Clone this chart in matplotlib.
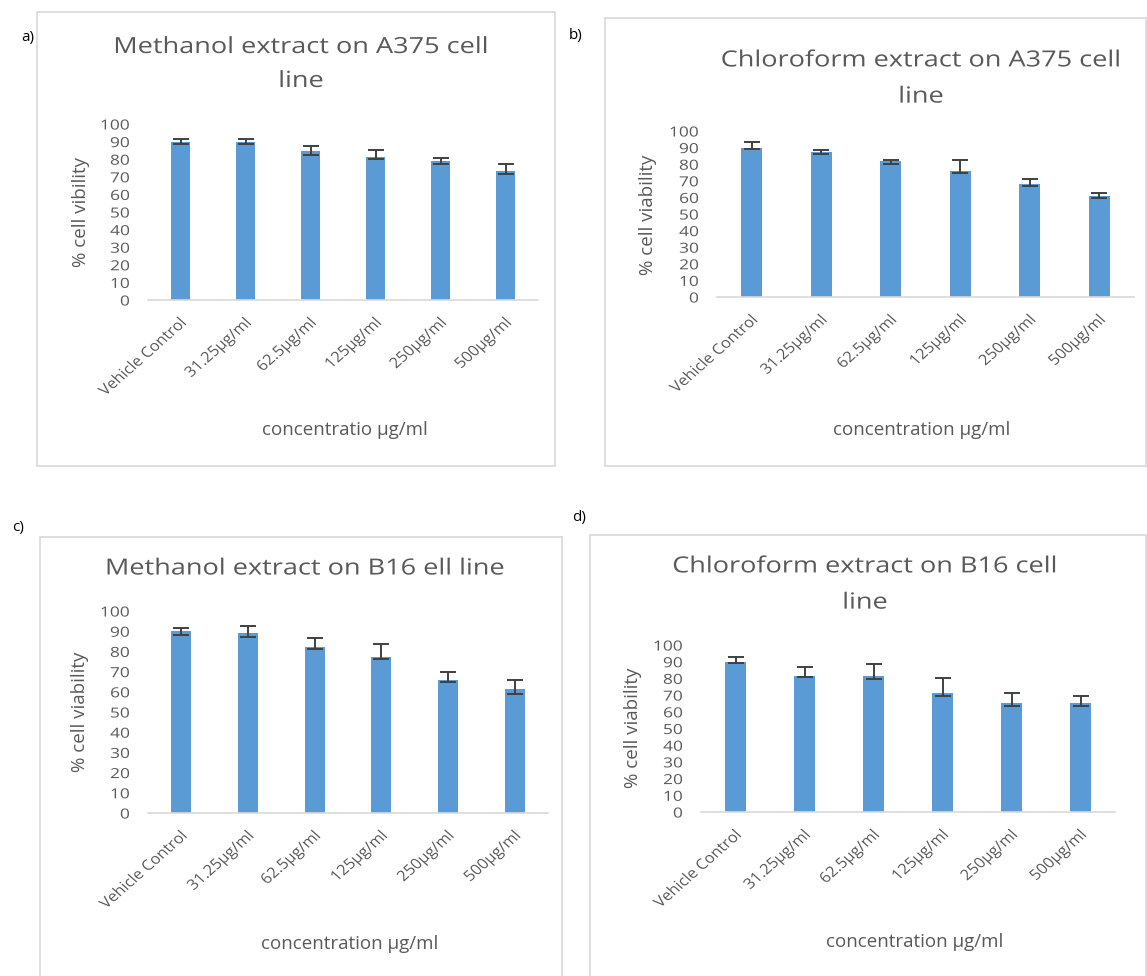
import matplotlib
matplotlib.use("Agg")
import matplotlib.pyplot as plt
from matplotlib.patches import Rectangle
from matplotlib.patheffects import AbstractPathEffect
from matplotlib.transforms import Affine2D

W, H, DPI = 1147, 976, 100

categories = ["Vehicle Control", "31.25µg/ml", "62.5µg/ml", "125µg/ml", "250µg/ml", "500µg/ml"]
y_ticks = [0, 10, 20, 30, 40, 50, 60, 70, 80, 90, 100]

# a) Methanol extract, A375
meth_a375 = [90.0, 90.0, 84.5, 81.1, 78.8, 73.3]
meth_a375_lo = [1.3, 1.3, 2.1, 0.8, 1.5, 1.9]
meth_a375_hi = [1.3, 1.3, 3.0, 4.1, 1.7, 4.2]

# b) Chloroform extract, A375
chl_a375 = [89.9, 87.5, 81.7, 75.9, 67.8, 60.6]
chl_a375_lo = [1.0, 1.2, 1.6, 0.9, 1.0, 1.0]
chl_a375_hi = [3.3, 1.0, 1.0, 6.6, 3.2, 2.2]

# c) Methanol extract, B16
meth_b16 = [90.0, 89.0, 82.2, 77.3, 66.0, 61.2]
meth_b16_lo = [1.8, 2.0, 1.0, 1.1, 1.0, 2.2]
meth_b16_hi = [1.8, 3.6, 4.6, 6.6, 3.6, 4.4]

# d) Chloroform extract, B16
chl_b16 = [89.6, 81.6, 81.6, 71.0, 65.4, 65.4]
chl_b16_lo = [0.6, 1.0, 1.8, 1.8, 1.8, 1.8]
chl_b16_hi = [3.2, 5.4, 6.8, 9.0, 5.6, 4.2]

BAR = "#5b9bd5"
ERR = "#404040"
TXT = "#595959"
GRID = "#d9d9d9"

plt.rcParams["font.family"] = ["Open Sans", "DejaVu Sans"]


class HStretch(AbstractPathEffect):
    """Widen glyph outlines horizontally about a fixed display x."""

    def __init__(self, sx, cx):
        super().__init__()
        self.sx = sx
        self.cx = cx

    def draw_path(self, renderer, gc, tpath, affine, rgbFace=None):
        t = affine + Affine2D().translate(-self.cx, 0).scale(self.sx, 1).translate(self.cx, 0)
        renderer.draw_path(gc, tpath, t, rgbFace)


fig = plt.figure(figsize=(W / DPI, H / DPI), dpi=DPI)
stretched = []  # (text, factor, anchor)


def fx(x):
    return x / W


def fy(y):
    return 1 - y / H


def frame(x0, y0, x1, y1):
    fig.patches.append(Rectangle((fx(x0), fy(y1)), fx(x1 - x0), (y1 - y0) / H,
                                 transform=fig.transFigure, fill=False,
                                 edgecolor=GRID, linewidth=1.2, zorder=0))


def panel(box, vals, lo, hi, title, title_xy, title_ls, ylabel, ylabel_xy,
          xlabel, xlabel_xy, tag, tag_xy):
    x0, y0, x1, y1 = box
    ax = fig.add_axes([fx(x0), fy(y1), fx(x1 - x0), (y1 - y0) / H])
    pos = list(range(len(categories)))
    ax.bar(pos, vals, width=0.3, color=BAR, zorder=2)
    ax.errorbar(pos, vals, yerr=[lo, hi], fmt="none", ecolor=ERR,
                elinewidth=1.4, capsize=6, capthick=1.4, zorder=3)
    ax.set_xlim(-0.5, len(categories) - 0.5)
    ax.set_ylim(0, 100)
    ax.set_yticks(y_ticks)
    ax.set_yticklabels([str(t) for t in y_ticks])
    ax.set_xticks(pos)
    ax.set_xticklabels(categories, rotation=45, ha="right", va="top",
                       rotation_mode="anchor")
    ax.tick_params(axis="both", length=0, colors=TXT)
    ax.tick_params(axis="y", pad=13, labelsize=10)
    ax.tick_params(axis="x", pad=11, labelsize=10.5)
    for s in ("top", "right", "left"):
        ax.spines[s].set_visible(False)
    ax.spines["bottom"].set_color(GRID)
    ax.spines["bottom"].set_linewidth(1.2)
    ax.patch.set_alpha(0)

    for lab in ax.get_yticklabels():
        stretched.append((lab, 1.25, "right"))
    for lab in ax.get_xticklabels():
        stretched.append((lab, 1.13, "right"))

    t = fig.text(fx(title_xy[0]), fy(title_xy[1]), title, ha="center", va="center",
                 fontsize=16, color=TXT, linespacing=title_ls)
    stretched.append((t, 1.22, "center"))
    fig.text(fx(ylabel_xy[0]), fy(ylabel_xy[1]), ylabel, ha="center", va="center",
             rotation=90, fontsize=13.5, color=TXT)
    fig.text(fx(xlabel_xy[0]), fy(xlabel_xy[1]), xlabel, ha="center", va="center",
             fontsize=13.5, color=TXT)
    fig.text(fx(tag_xy[0]), fy(tag_xy[1]), tag, ha="center", va="center",
             fontsize=11, color="black")
    return ax


frame(37, 12, 555, 466)
frame(605, 18, 1146, 466)
frame(40, 537, 562, 990)
frame(590, 535, 1146, 990)

panel((148, 124, 538, 300), meth_a375, meth_a375_lo, meth_a375_hi,
      "Methanol extract on A375 cell\nline", (301, 64.5), 1.81,
      "% cell vibility", (81, 212),
      "concentratio µg/ml", (345, 430), "a)", (28, 37))

panel((717, 131, 1134, 297), chl_a375, chl_a375_lo, chl_a375_hi,
      "Chloroform extract on A375 cell\nline", (921, 79), 1.95,
      "% cell viability", (648, 215),
      "concentration µg/ml", (922, 430), "b)", (576, 35))

panel((148, 611, 548, 813), meth_b16, meth_b16_lo, meth_b16_hi,
      "Methanol extract on B16 ell line", (305, 569), 1.2,
      "% cell viability", (80, 712),
      "concentration µg/ml", (350, 944), "c)", (18, 527))

panel((701, 645, 1115, 812), chl_b16, chl_b16_lo, chl_b16_hi,
      "Chloroform extract on B16 cell\nline", (865, 585), 1.95,
      "% cell viability", (633, 728),
      "concentration µg/ml", (915, 942), "d)", (579, 518))

# Lay out once so each stretched text knows where its anchor sits on the canvas.
fig.canvas.draw()
renderer = fig.canvas.get_renderer()
for txt, factor, where in stretched:
    bb = txt.get_window_extent(renderer)
    cx = bb.x1 if where == "right" else 0.5 * (bb.x0 + bb.x1)
    txt.set_path_effects([HStretch(factor, cx)])

fig.savefig("out.png", dpi=DPI, facecolor="white")
